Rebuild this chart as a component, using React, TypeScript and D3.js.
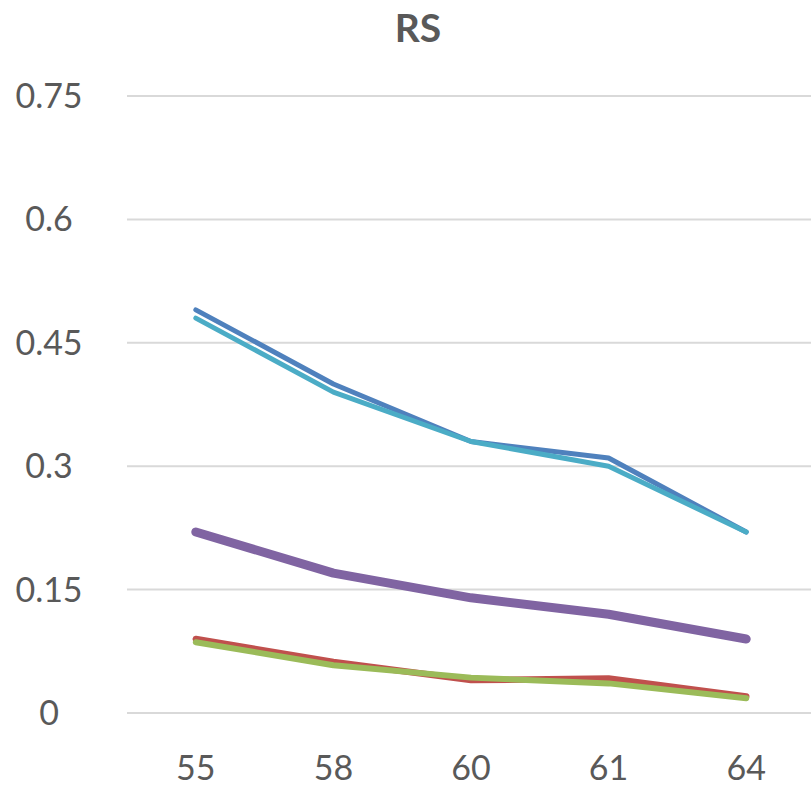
import React from "react";
import * as d3 from "d3";

const categories = ["55", "58", "60", "61", "64"];
const yTicks = [0, 0.15, 0.3, 0.45, 0.6, 0.75];
const yTickLabels = ["0", "0.15", "0.3", "0.45", "0.6", "0.75"];

const seriesBlue = [0.49, 0.4, 0.33, 0.31, 0.22];
const seriesRed = [0.09, 0.062, 0.04, 0.042, 0.02];
const seriesGreen = [0.086, 0.058, 0.043, 0.036, 0.018];
const seriesPurple = [0.22, 0.17, 0.14, 0.12, 0.09];
const seriesCyan = [0.48, 0.39, 0.33, 0.3, 0.22];

const series = [
  { name: "blue", values: seriesBlue, color: "#4F81BD", width: 5 },
  { name: "red", values: seriesRed, color: "#C0504D", width: 6.5 },
  { name: "green", values: seriesGreen, color: "#9BBB59", width: 6 },
  { name: "purple", values: seriesPurple, color: "#8064A2", width: 9 },
  { name: "cyan", values: seriesCyan, color: "#4BACC6", width: 5 },
];

export default function App() {
  const W = 811;
  const H = 787;
  const x = d3.scalePoint<string>().domain(categories).range([127, 815]).padding(0.5);
  const y = d3.scaleLinear().domain([0, 0.75]).range([713, 96]);
  const line = d3
    .line<number>()
    .x((_, i) => x(categories[i]) as number)
    .y((d) => y(d));
  const font = "Lato, 'Open Sans', sans-serif";
  return (
    <svg
      width={W}
      height={H}
      style={{ position: "absolute", left: 0, top: 0, background: "#fff" }}
      fontFamily={font}
    >
      <rect width={W} height={H} fill="#fff" />
      <text x={418} y={42} textAnchor="middle" fontSize={39} fontWeight="bold" fill="#595959">
        RS
      </text>
      {yTicks.map((t, i) => (
        <g key={t}>
          <line x1={127} x2={W} y1={y(t)} y2={y(t)} stroke="#D9D9D9" strokeWidth={2} />
          <text x={49} y={y(t) + 12} textAnchor="middle" fontSize={34} fill="#595959">
            {yTickLabels[i]}
          </text>
        </g>
      ))}
      {categories.map((c) => (
        <text key={c} x={x(c) as number} y={780} textAnchor="middle" fontSize={34} fill="#595959">
          {c}
        </text>
      ))}
      {series.map((s) => (
        <path
          key={s.name}
          d={line(s.values) || ""}
          fill="none"
          stroke={s.color}
          strokeWidth={s.width}
          strokeLinecap="round"
          strokeLinejoin="round"
        />
      ))}
    </svg>
  );
}
